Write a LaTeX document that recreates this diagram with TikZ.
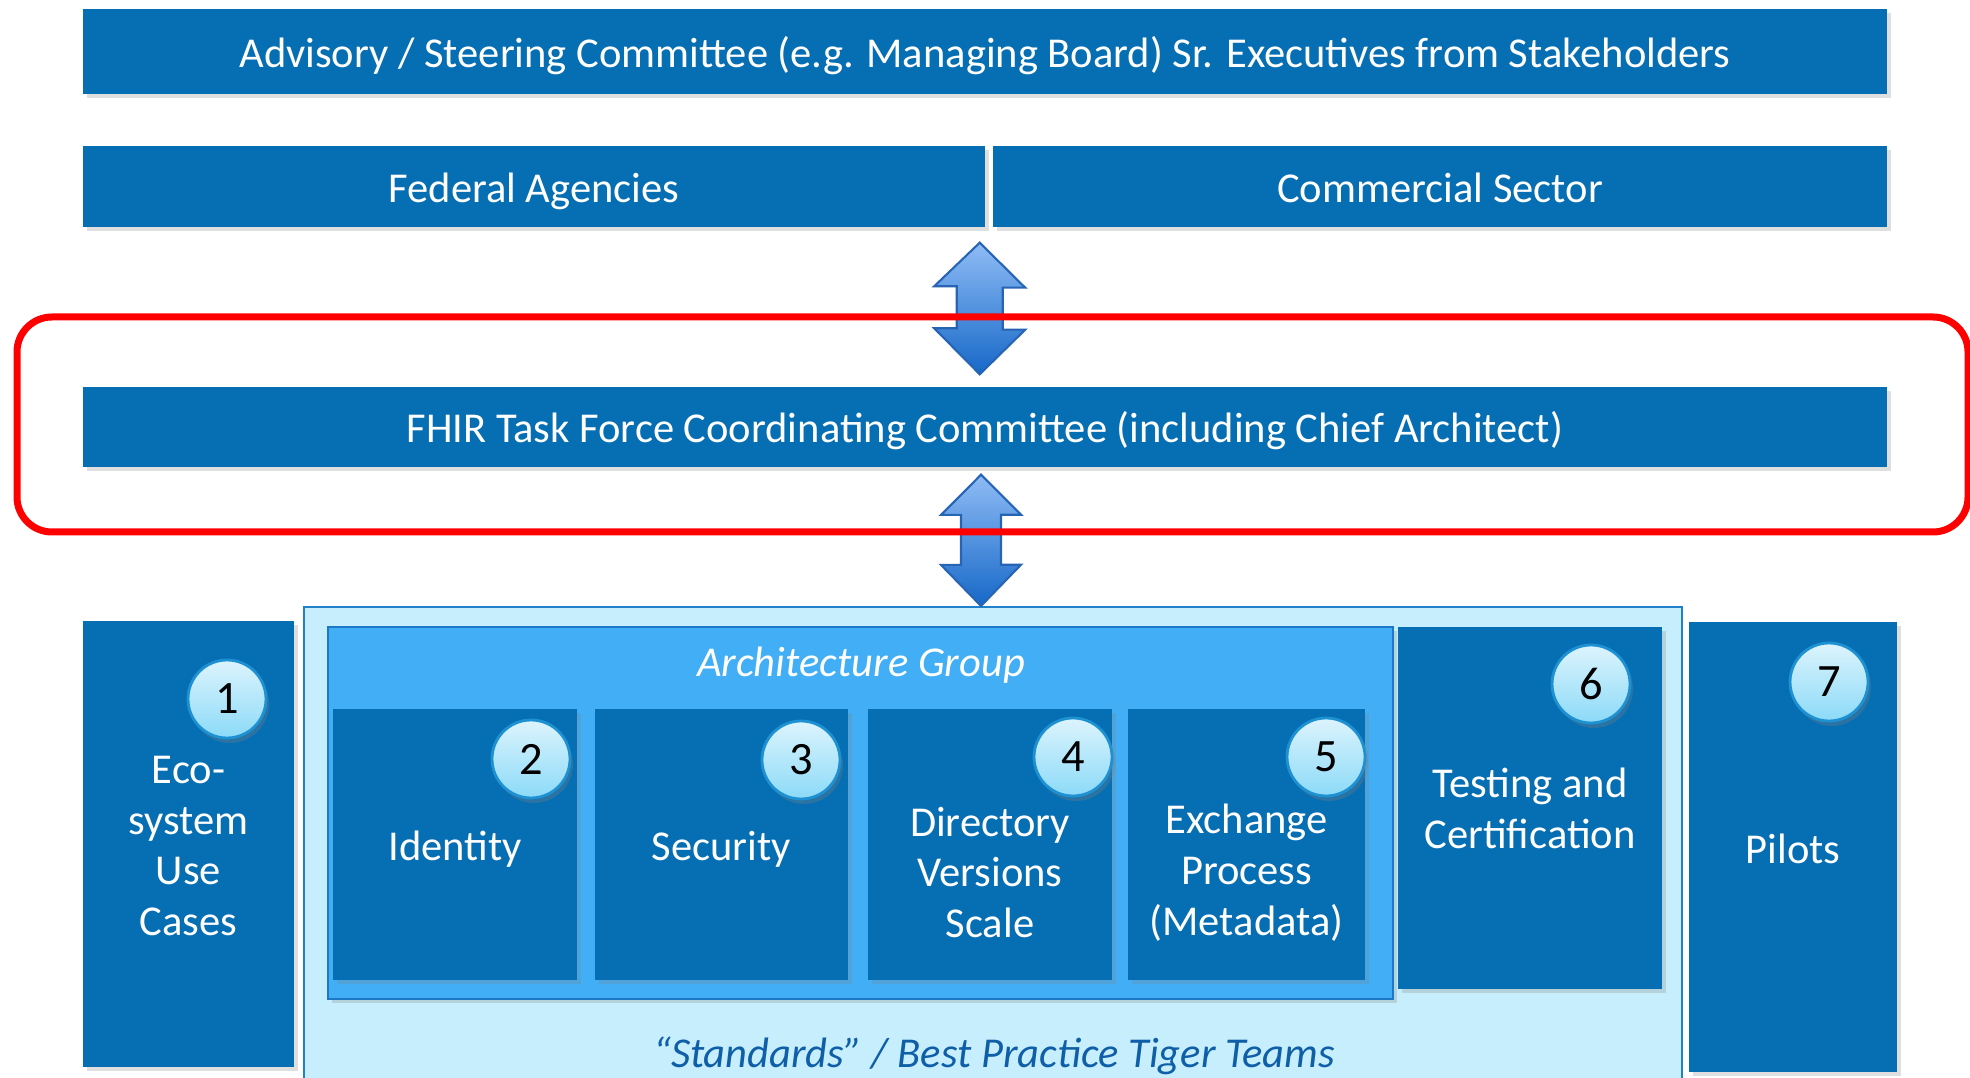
\documentclass[tikz,border=0pt]{standalone}
\usepackage{fontspec}
\setmainfont{Carlito}
\usetikzlibrary{shadows}

\definecolor{boxblue}{RGB}{6,110,178}
\definecolor{archblue}{RGB}{66,174,245}
\definecolor{archline}{RGB}{30,120,200}
\definecolor{tigerfill}{RGB}{198,238,252}
\definecolor{tigerline}{RGB}{32,128,200}
\definecolor{tigerink}{RGB}{14,94,168}
\definecolor{arrowtop}{RGB}{143,188,245}
\definecolor{arrowbot}{RGB}{22,104,200}
\definecolor{arrowline}{RGB}{40,100,180}
\definecolor{numtop}{RGB}{220,244,253}
\definecolor{numbot}{RGB}{140,218,248}
\definecolor{numline}{RGB}{30,145,210}

\begin{document}
\begin{tikzpicture}[
        bar/.style={rectangle, fill=boxblue, text=white, align=center, inner sep=0pt, font=\fontsize{12.1}{14.5}\selectfont, drop shadow={shadow xshift=0.35mm, shadow yshift=-0.4mm, opacity=0.25}},
        box/.style={bar},
        oneline/.style={text height=0.32cm, text depth=0cm},
        boxtext/.style={text=white, align=center, inner sep=0pt, font=\fontsize{12.1}{14.5}\selectfont},
        tigerbox/.style={rectangle, draw=tigerline, line width=0.6pt, fill=tigerfill},
        tigertext/.style={text=tigerink, inner sep=0pt, oneline, font=\fontsize{12.1}{14.5}\selectfont\itshape},
        archbox/.style={rectangle, draw=archline, line width=0.6pt, fill=archblue, drop shadow={shadow xshift=0.35mm, shadow yshift=-0.4mm, opacity=0.25}},
        archtext/.style={text=white, inner sep=0pt, oneline, font=\fontsize{12.1}{14.5}\selectfont\itshape},
        num/.style={circle, minimum size=0.78cm, inner sep=0pt, top color=numtop, bottom color=numbot, draw=numline, line width=0.8pt, font=\fontsize{13.2}{15}\selectfont, drop shadow={shadow xshift=0.3mm, shadow yshift=-0.5mm, opacity=0.3}},
        updown/.style={top color=arrowtop, bottom color=arrowbot, draw=arrowline, line width=0.6pt},
        highlight/.style={draw=red, line width=0.7mm, rounded corners=3.5mm}
    ]
        \useasboundingbox (0,0) rectangle (19.70,-10.78);

        % Governance bars
        \node[bar, oneline, minimum width=18.04cm, minimum height=0.85cm] (board) at (9.85,-0.515) {Advisory / Steering Committee (e.g. Managing Board) Sr. Executives from Stakeholders};
        \node[bar, oneline, minimum width=9.02cm, minimum height=0.81cm] (fed) at (5.34,-1.865) {Federal Agencies};
        \node[bar, oneline, minimum width=8.94cm, minimum height=0.81cm] (com) at (14.40,-1.865) {Commercial Sector};
        \node[bar, oneline, minimum width=18.04cm, minimum height=0.80cm] (fhir) at (9.85,-4.27) {FHIR Task Force Coordinating Committee (including Chief Architect)};

        % Tiger teams area
        \node[tigerbox, minimum width=13.78cm, minimum height=4.90cm] (tiger) at (9.93,-8.52) {};
        \node[tigertext] (tigerlabel) at (9.94,-10.51) {“Standards” / Best Practice Tiger Teams};
        \node[archbox, minimum width=10.65cm, minimum height=3.72cm] (arch) at (8.605,-8.13) {};
        \node[archtext] (archlabel) at (8.61,-6.61) {Architecture Group};

        % Side columns
        \node[box, minimum width=2.11cm, minimum height=4.46cm] (eco) at (1.885,-8.44) {};
        \node[boxtext] (ecolabel) at ([yshift=-0.2mm]eco.center) {Eco-\\system\\Use\\Cases};
        \node[box, minimum width=2.64cm, minimum height=3.62cm] (test) at (15.30,-8.08) {Testing and\\Certification};
        \node[box, oneline, minimum width=2.08cm, minimum height=4.50cm] (pilot) at (17.93,-8.47) {Pilots};

        % Architecture teams
        \node[box, oneline, minimum width=2.44cm, minimum height=2.71cm] (ident) at (4.55,-8.445) {Identity};
        \node[box, oneline, minimum width=2.53cm, minimum height=2.71cm] (secur) at (7.215,-8.445) {Security};
        \node[box, minimum width=2.44cm, minimum height=2.71cm] (direc) at (9.90,-8.445) {};
        \node[box, minimum width=2.37cm, minimum height=2.71cm] (exch) at (12.465,-8.445) {};
        \node[boxtext] (direclabel) at ([yshift=-2.8mm]direc.center) {Directory\\Versions\\Scale};
        \node[boxtext] (exchlabel) at ([yshift=-2.8mm]exch.center) {Exchange\\Process\\(Metadata)};

        % Numbers
        \node[num] (n1) at (2.27,-6.99) {1};
        \node[num] (n2) at (5.31,-7.59) {2};
        \node[num] (n3) at (8.01,-7.60) {3};
        \node[num] (n4) at (10.73,-7.57) {4};
        \node[num] (n5) at (13.26,-7.57) {5};
        \node[num] (n6) at (15.91,-6.84) {6};
        \node[num] (n7) at (18.29,-6.82) {7};

        % Two-way arrows
        \coordinate (a1) at ([xshift=-0.6mm, yshift=-1.5mm]fed.south east);
        \coordinate (a2) at ([xshift=-0.6mm, yshift=1.2mm]fhir.north);
        \shade[updown] (a1) -- ++(0.455,-0.45) -- ++(-0.225,0) -- ++(0,-0.42) -- ++(0.225,0) -- (a2 -| a1) -- ++(-0.455,0.46) -- ++(0.225,0) -- ++(0,0.42) -- ++(-0.225,0) -- cycle;
        \coordinate (b1) at ([xshift=-0.4mm, yshift=-0.7mm]fhir.south);
        \coordinate (b2) at ([xshift=-0.4mm]tiger.north -| fhir.south);
        \shade[updown] (b1) -- ++(0.40,-0.40) -- ++(-0.20,0) -- ++(0,-0.50) -- ++(0.20,0) -- (b2) -- ++(-0.40,0.41) -- ++(0.20,0) -- ++(0,0.50) -- ++(-0.20,0) -- cycle;

        % Highlight round the coordinating committee
        \draw[highlight] (0.17,-3.17) rectangle (19.68,-5.32);

    \end{tikzpicture}
\end{document}
